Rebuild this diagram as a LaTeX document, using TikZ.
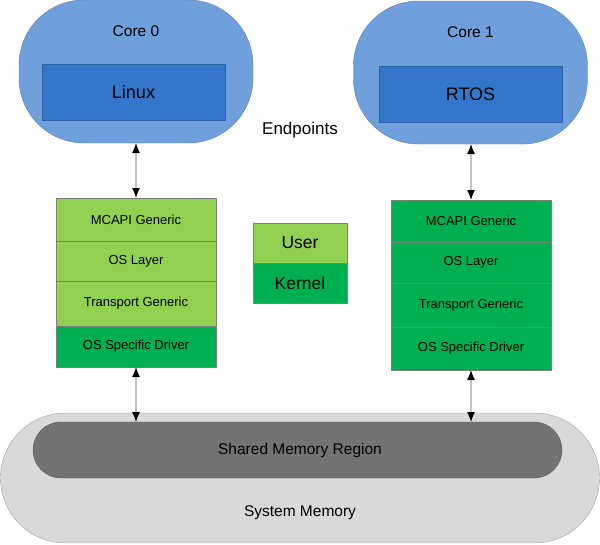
\documentclass[tikz,border=0pt]{standalone}
\usepackage{fontspec}
\setmainfont{Liberation Sans}
\usetikzlibrary{arrows.meta}
\definecolor{coreblue}{RGB}{111,160,220}
\definecolor{coreedge}{RGB}{90,125,175}
\definecolor{osblue}{RGB}{52,118,204}
\definecolor{osedge}{RGB}{45,95,165}
\definecolor{lgreen}{RGB}{146,208,80}
\definecolor{dgreen}{RGB}{0,176,80}
\definecolor{boxedge}{RGB}{120,130,120}
\definecolor{shmem}{RGB}{115,115,115}
\definecolor{shedge}{RGB}{85,85,85}
\definecolor{sysmem}{RGB}{217,217,217}
\definecolor{sysedge}{RGB}{160,160,160}
\definecolor{lineg}{RGB}{195,195,195}
\tikzset{
  core/.style={draw=coreedge, fill=coreblue, rounded corners=65pt, minimum width=234pt, minimum height=143pt, inner sep=0pt, outer sep=0pt},
  osbox/.style={draw=osedge, fill=osblue, minimum width=183pt, minimum height=56pt, inner sep=0pt, outer sep=0pt, font=\fontsize{18}{20}\selectfont},
  layer/.style={draw=boxedge, line width=0.6pt, minimum width=160pt, inner sep=0pt, outer sep=0pt, anchor=north, font=\fontsize{13}{15}\selectfont},
  legend/.style={draw=boxedge, line width=0.6pt, minimum width=94pt, minimum height=40pt, inner sep=0pt, outer sep=0pt, anchor=north, font=\fontsize{17.5}{20}\selectfont},
  lbl/.style={inner sep=0pt, font=\fontsize{15.5}{18}\selectfont},
  link/.style={draw=lineg, line width=1.3pt, {Latex[color=black,length=10pt,width=8pt]}-{Latex[color=black,length=10pt,width=8pt]}}
}
\begin{document}
\begin{tikzpicture}[x=1pt,y=-1pt]
\useasboundingbox (0,0) rectangle (600,544);
% cores
\node[core] (core0) at (136,71.5) {};
\node[core] (core1) at (470.5,72.5) {};
\node[lbl] (c0lbl) at (136,31) {Core 0};
\node[lbl] (c1lbl) at (470.5,32) {Core 1};
\node[osbox] (linux) at (133.5,92) {Linux};
\node[osbox] (rtos) at (470.5,94) {RTOS};
\node[lbl, font=\fontsize{17}{20}\selectfont] (endp) at (300,130) {Endpoints};
% left stack
\node[layer, fill=lgreen, minimum height=43pt] (l1) at (136,198) {MCAPI Generic};
\node[layer, fill=lgreen, minimum height=40pt] (l2) at (136,241) {OS Layer};
\node[layer, fill=lgreen, minimum height=45pt] (l3) at (136,281) {Transport Generic};
\node[layer, fill=dgreen, minimum height=41pt] (l4) at (136,326) {OS Specific Driver};
% right stack
\node[layer, fill=dgreen, minimum height=42pt] (r1) at (471,200) {MCAPI Generic};
\node[layer, fill=dgreen, minimum height=41pt] (r2) at (471,242) {OS Layer};
\node[layer, fill=dgreen, minimum height=44pt] (r3) at (471,283) {Transport Generic};
\node[layer, fill=dgreen, minimum height=43pt] (r4) at (471,327) {OS Specific Driver};
% legend
\node[legend, fill=lgreen] (user) at (300,223) {User};
\node[legend, fill=dgreen] (kernel) at (300,263) {Kernel};
% memory
\node[draw=sysedge, fill=sysmem, rounded corners=65pt, minimum width=599pt, minimum height=130pt, inner sep=0pt, outer sep=0pt] (sys) at (300,478) {};
\node[draw=shedge, fill=shmem, rounded corners=28pt, minimum width=529pt, minimum height=56pt, inner sep=0pt, outer sep=0pt] (shm) at (297.5,450) {};
\node[lbl, text=black] (shmlbl) at (300,450) {Shared Memory Region};
\node[lbl] (syslbl) at (300,513) {System Memory};
% connectors
\draw[link] (core0.south -| l1.north) -- (l1.north);
\draw[link] (core1.south -| r1.north) -- (r1.north);
\draw[link] (l4.south) -- (l4.south |- shm.north);
\draw[link] (r4.south) -- (r4.south |- shm.north);
\end{tikzpicture}
\end{document}
